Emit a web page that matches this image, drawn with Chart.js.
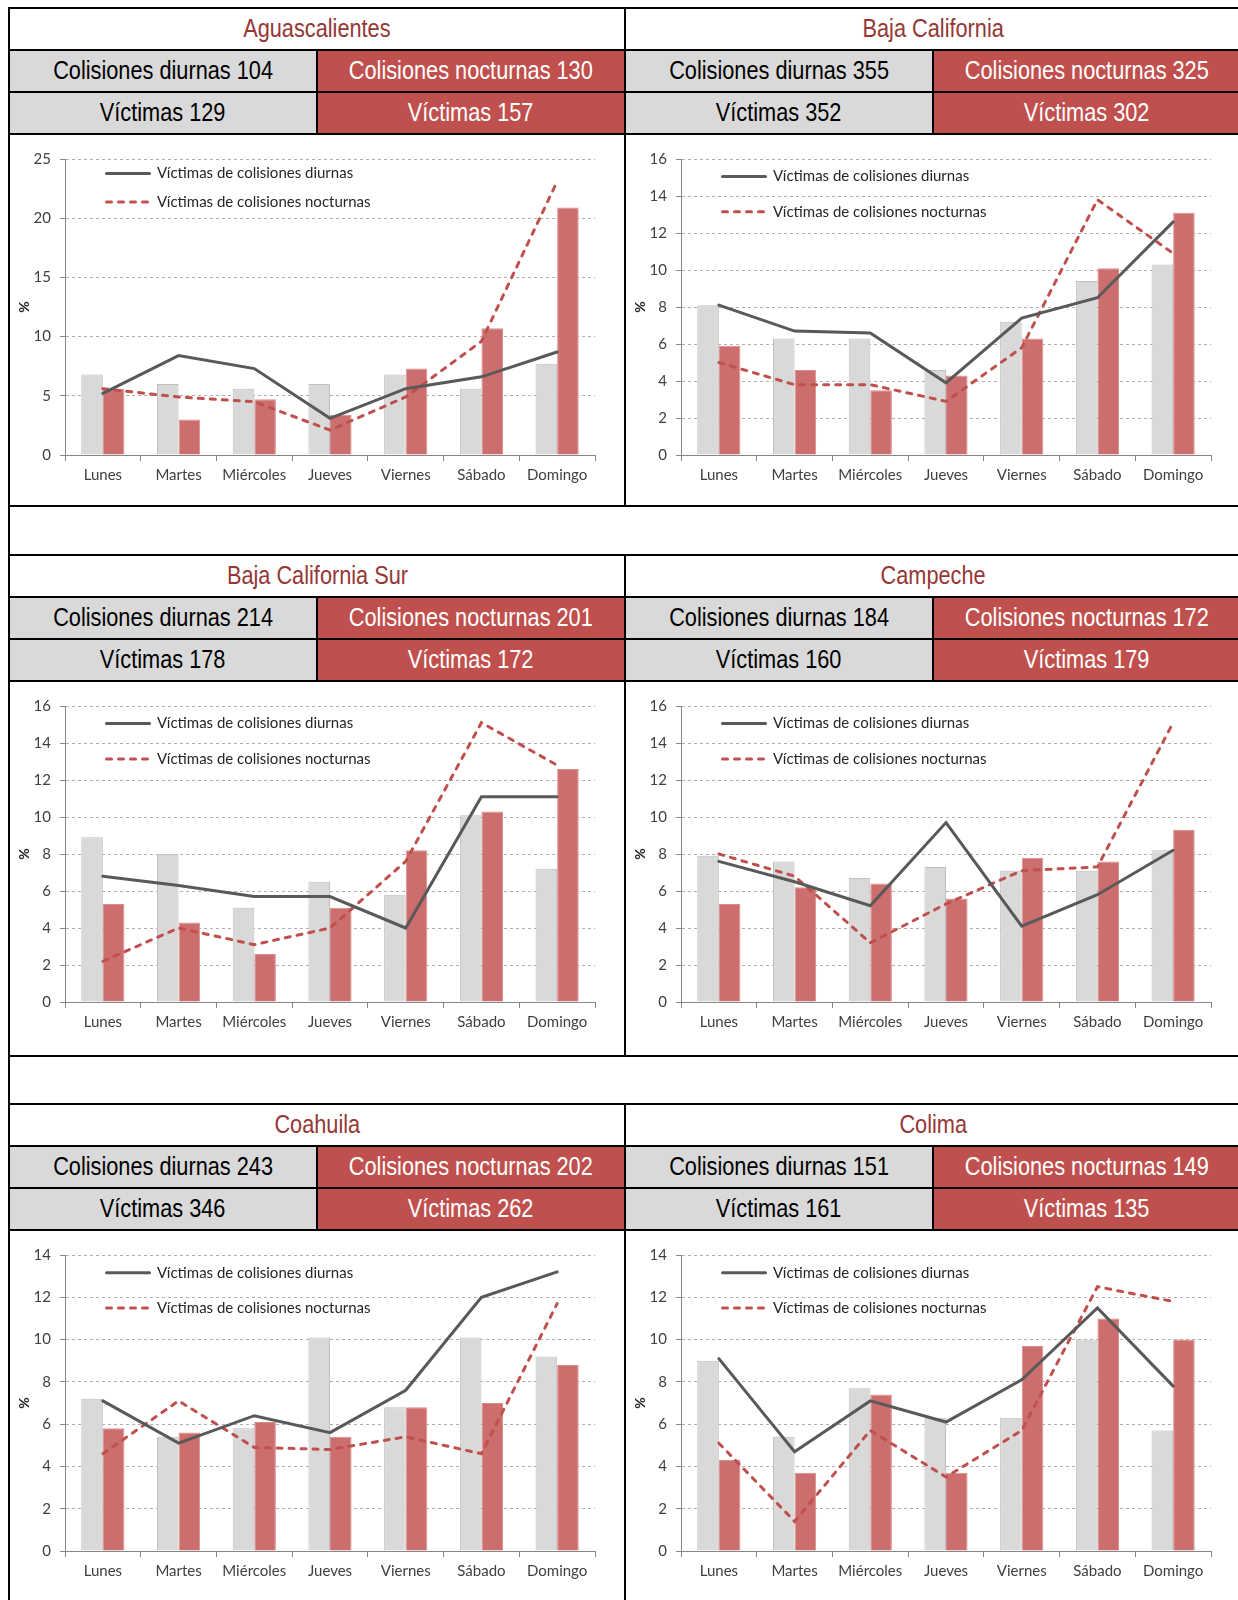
<!DOCTYPE html>
<html>
<head>
<meta charset="utf-8">
<script src="https://cdn.jsdelivr.net/npm/chart.js@4.4.1/dist/chart.umd.min.js"></script>
<style>
  html, body { margin: 0; padding: 0; background: #fff; overflow: hidden; }
  #sheet { position: relative; width: 1238px; height: 1600px; overflow: hidden; }
  .panel { position: absolute; box-sizing: border-box; border: 2px solid #000; background: #fff; }
  .title { height: 40px; line-height: 40px; border-bottom: 2px solid #000; text-align: center;
           font: 26.5px "Liberation Sans", Arial, sans-serif; color: #953735; }
  .row { display: flex; height: 40px; border-bottom: 2px solid #000; }
  .cell { flex: 1; line-height: 40px; text-align: center; white-space: nowrap;
          font: 26.5px "Liberation Sans", Arial, sans-serif; }
  .narrow { display: inline-block; transform: translateY(3.5px) scaleX(0.82); }
  .dia { background: #d9d9d9; color: #000; border-right: 2px solid #000; }
  .noche { background: #c0504d; color: #fff; }
  .panel canvas { display: block; }
  .edge { position: absolute; left: 8px; top: 7px; width: 2px; height: 1600px; background: #000; }
</style>
</head>
<body>
<div id="sheet"><div class="edge"></div></div>
<script>
// Datos
const days = ['Lunes', 'Martes', 'Miércoles', 'Jueves', 'Viernes', 'Sábado', 'Domingo'];
const states = ['Aguascalientes', 'Baja California', 'Baja California Sur', 'Campeche', 'Coahuila', 'Colima'];
const colDia = [104, 355, 214, 184, 243, 151];
const colNoche = [130, 325, 201, 172, 202, 149];
const vicDia = [129, 352, 178, 160, 346, 161];
const vicNoche = [157, 302, 172, 179, 262, 135];
const yMax = [25, 16, 16, 16, 14, 14];
const yStep = [5, 2, 2, 2, 2, 2];

// % de colisiones por día (barras)
const barsDia = [
  [6.8, 6.0, 5.6, 6.0, 6.8, 5.6, 7.7],
  [8.1, 6.3, 6.3, 4.6, 7.2, 9.4, 10.3],
  [8.9, 8.0, 5.1, 6.5, 5.8, 10.1, 7.2],
  [7.9, 7.6, 6.7, 7.3, 7.1, 7.1, 8.2],
  [7.2, 5.4, 5.8, 10.1, 6.8, 10.1, 9.2],
  [9.0, 5.4, 7.7, 6.3, 6.3, 10.0, 5.7]
];
const barsNoche = [
  [5.6, 3.0, 4.7, 3.4, 7.3, 10.7, 20.9],
  [5.9, 4.6, 3.5, 4.3, 6.3, 10.1, 13.1],
  [5.3, 4.3, 2.6, 5.1, 8.2, 10.3, 12.6],
  [5.3, 6.2, 6.4, 5.6, 7.8, 7.6, 9.3],
  [5.8, 5.6, 6.1, 5.4, 6.8, 7.0, 8.8],
  [4.3, 3.7, 7.4, 3.7, 9.7, 11.0, 10.0]
];

// % de víctimas por día (líneas)
const lineDia = [
  [5.2, 8.4, 7.3, 3.1, 5.6, 6.6, 8.7],
  [8.1, 6.7, 6.6, 3.9, 7.4, 8.5, 12.6],
  [6.8, 6.3, 5.7, 5.7, 4.0, 11.1, 11.1],
  [7.6, 6.5, 5.2, 9.7, 4.1, 5.8, 8.2],
  [7.1, 5.1, 6.4, 5.6, 7.6, 12.0, 13.2],
  [9.1, 4.7, 7.1, 6.1, 8.1, 11.5, 7.8]
];
const lineNoche = [
  [5.6, 4.9, 4.5, 2.1, 4.9, 9.6, 23.1],
  [5.0, 3.8, 3.8, 2.9, 5.8, 13.8, 10.9],
  [2.2, 4.0, 3.1, 4.0, 7.6, 15.1, 12.8],
  [8.0, 6.8, 3.2, 5.3, 7.1, 7.3, 15.1],
  [4.6, 7.1, 4.9, 4.8, 5.4, 4.6, 11.7],
  [5.1, 1.4, 5.7, 3.5, 5.7, 12.5, 11.8]
];

// posición de cada bloque en la hoja
const rowTops = [7, 554, 1103];
const rowHeights = [500, 503, 499];
const colLefts = [8, 624];
const panelWidth = 618;
const legendGap = [28.6, 35.3, 35.5, 35.3, 35.3, 35.3];
const legendTop = [14.4, 17.5, 17.6, 17.6, 17.7, 17.7];

const font = {family: 'Lato', size: 15};

// coloca la leyenda dentro del área de trazado
const legendShift = {
  id: 'legendShift',
  afterLayout(chart, args, opts) {
    const lg = chart.legend;
    if (lg) {
      lg.left = chart.chartArea.left + opts.x;
      lg.top = chart.chartArea.top + opts.y;
    }
  }
};

// mantiene el trazo discontinuo en la leyenda
function lineLabels(chart) {
  return Chart.defaults.plugins.legend.labels.generateLabels(chart).map((item) => {
    const ds = chart.data.datasets[item.datasetIndex];
    item.lineDash = ds.borderDash || [];
    item.lineWidth = ds.borderWidth;
    item.lineCap = ds.borderCapStyle;
    item.strokeStyle = ds.borderColor;
    return item;
  });
}

const sheet = document.getElementById('sheet');
const narrow = (t) => '<span class="narrow">' + t + '</span>';

states.forEach((name, i) => {
  const col = i % 2;
  const row = Math.floor(i / 2);
  const panel = document.createElement('div');
  panel.className = 'panel';
  panel.style.left = colLefts[col] + 'px';
  panel.style.top = rowTops[row] + 'px';
  panel.style.width = panelWidth + 'px';
  panel.style.height = rowHeights[row] + 'px';
  panel.innerHTML =
    '<div class="title">' + narrow(name) + '</div>' +
    '<div class="row"><div class="cell dia">' + narrow('Colisiones diurnas ' + colDia[i]) + '</div>' +
    '<div class="cell noche">' + narrow('Colisiones nocturnas ' + colNoche[i]) + '</div></div>' +
    '<div class="row"><div class="cell dia">' + narrow('Víctimas ' + vicDia[i]) + '</div>' +
    '<div class="cell noche">' + narrow('Víctimas ' + vicNoche[i]) + '</div></div>';
  const canvas = document.createElement('canvas');
  const W = panelWidth - 4;
  const H = rowHeights[row] - 4 - 126;
  canvas.width = W;
  canvas.height = H;
  panel.appendChild(canvas);
  sheet.appendChild(panel);

  const pad = legendGap[i] - font.size;

  new Chart(canvas, {
    type: 'bar',
    data: {
      labels: days,
      datasets: [
        {
          type: 'line',
          label: 'Víctimas de colisiones diurnas',
          data: lineDia[i],
          borderColor: '#595959',
          borderWidth: 3,
          borderCapStyle: 'round',
          pointRadius: 0,
          order: 0
        },
        {
          type: 'line',
          label: 'Víctimas de colisiones nocturnas',
          data: lineNoche[i],
          borderColor: '#c0504d',
          borderWidth: 3,
          borderDash: [5, 7],
          borderCapStyle: 'round',
          pointRadius: 0,
          order: 0
        },
        {
          label: 'Colisiones diurnas',
          data: barsDia[i],
          backgroundColor: '#d9d9d9',
          borderColor: '#bfbfbf',
          borderWidth: 1,
          categoryPercentage: 0.57,
          barPercentage: 1,
          order: 1
        },
        {
          label: 'Colisiones nocturnas',
          data: barsNoche[i],
          backgroundColor: '#cd6e6e',
          borderColor: '#d98e8e',
          borderWidth: 1,
          categoryPercentage: 0.57,
          barPercentage: 1,
          order: 1
        }
      ]
    },
    options: {
      responsive: false,
      animation: false,
      devicePixelRatio: 1,
      layout: {padding: {left: 0, right: 29, top: 24, bottom: 0}},
      scales: {
        x: {
          grid: {offset: true, drawOnChartArea: false, drawTicks: true, tickLength: 6, color: '#868686'},
          border: {color: '#868686'},
          ticks: {color: '#404040', font: font, padding: 5.5, maxRotation: 0, autoSkip: false},
          afterFit: (s) => { s.height = H - 320; }
        },
        y: {
          min: 0,
          max: yMax[i],
          ticks: {stepSize: yStep[i], color: '#404040', font: font, padding: 9},
          grid: {color: '#b0b0b0', tickLength: 5, tickColor: '#868686'},
          border: {color: '#868686', dash: [3, 3]},
          title: {display: true, text: '%', color: '#262626',
                  font: {family: 'Lato', size: 14, weight: 'bold'}, padding: {top: 6, bottom: 0}},
          afterFit: (s) => { s.width = 55; }
        }
      },
      plugins: {
        legend: {
          position: 'chartArea',
          align: 'start',
          labels: {
            usePointStyle: true,
            pointStyle: 'line',
            pointStyleWidth: 43,
            padding: pad,
            color: '#262626',
            font: font,
            generateLabels: lineLabels,
            filter: (item, data) => data.datasets[item.datasetIndex].type === 'line'
          }
        },
        tooltip: {enabled: false},
        legendShift: {x: 41.5 - pad, y: legendTop[i] - pad - font.size / 2}
      }
    },
    plugins: [legendShift]
  });
});
</script>
</body>
</html>
